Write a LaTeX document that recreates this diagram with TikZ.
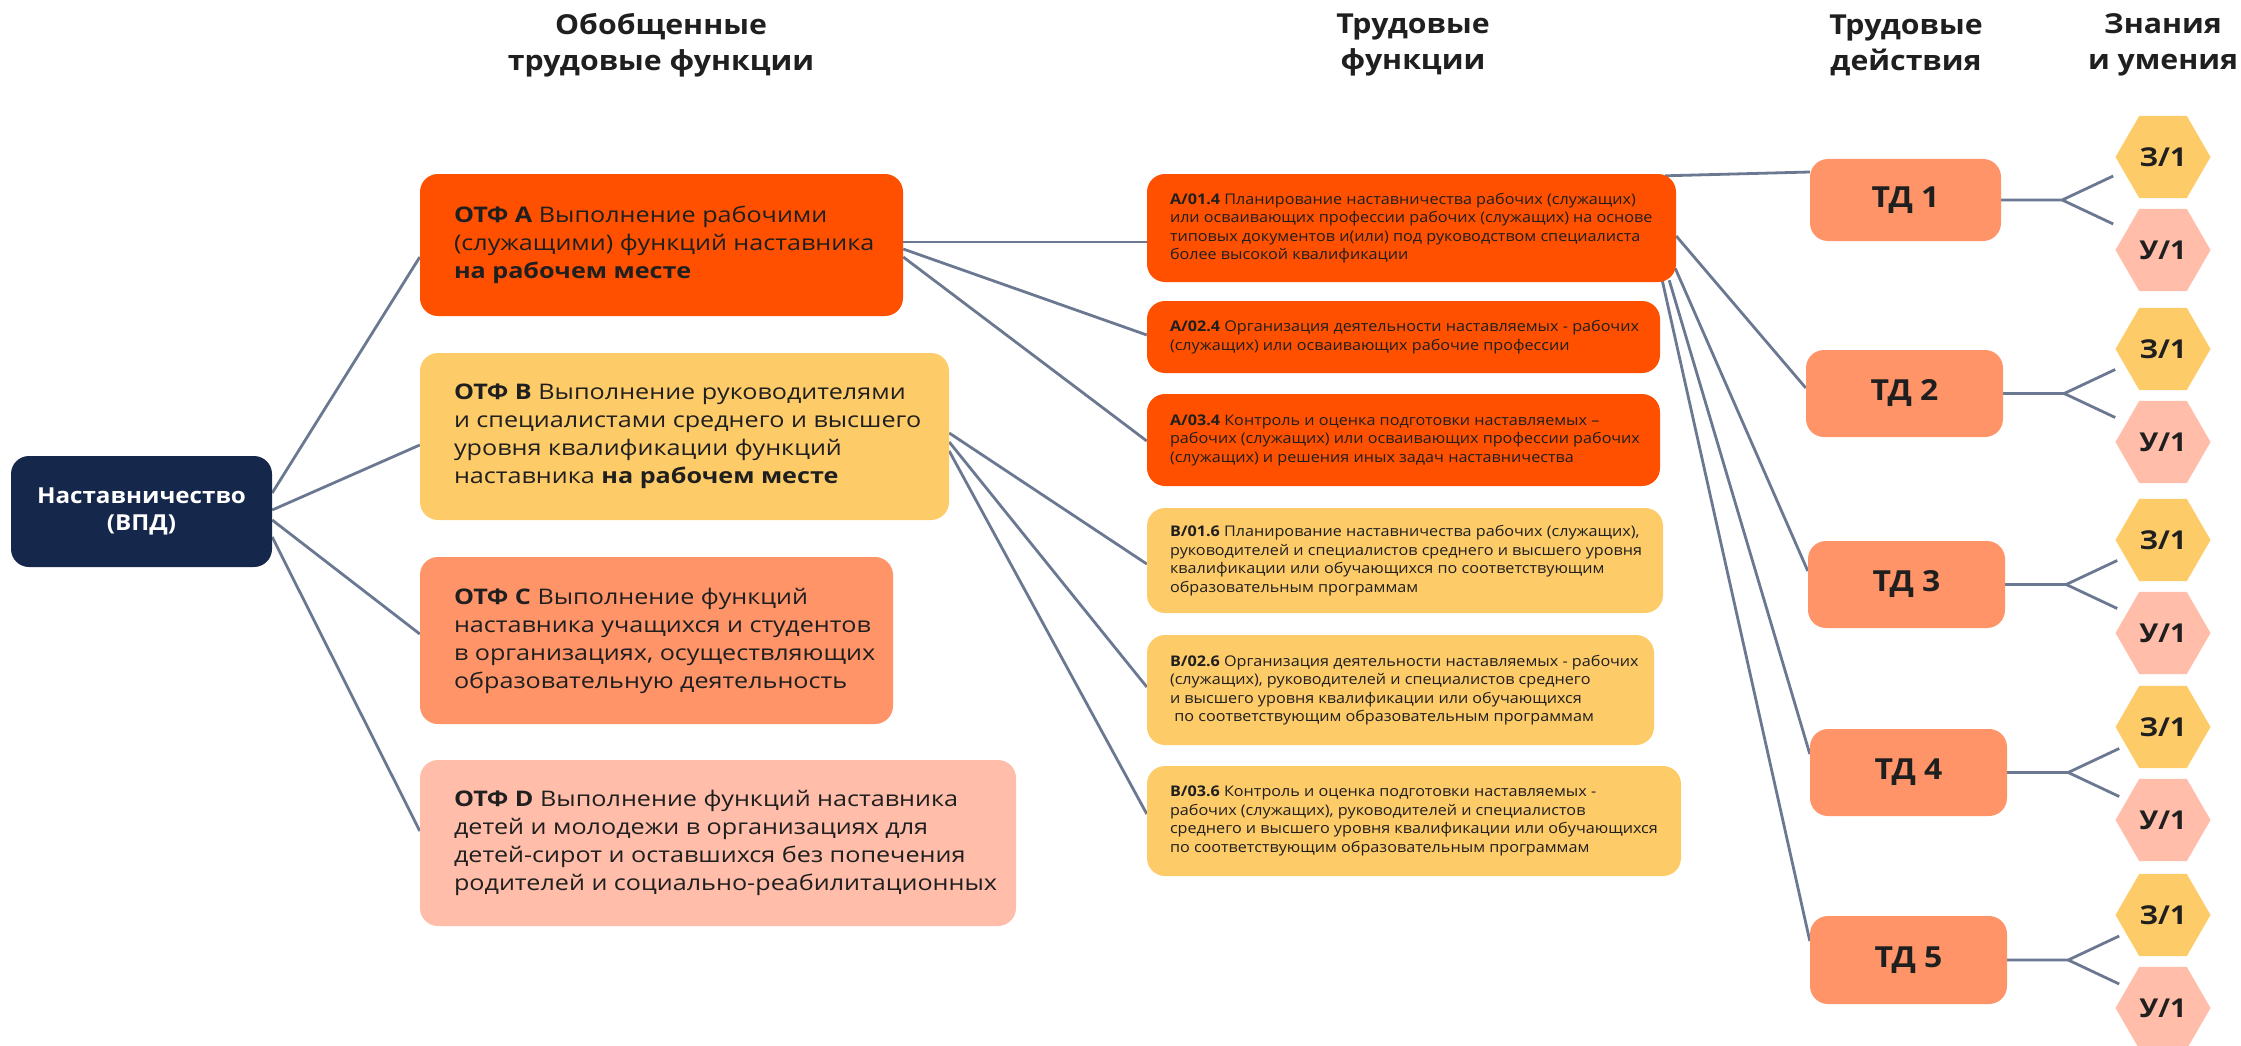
\documentclass[tikz,border=0pt]{standalone}
\usepackage{fontspec}
\setmainfont{Open Sans}[FakeStretch=1.1]
\newfontfamily\otffont{Open Sans}[FakeStretch=1.17]
\usetikzlibrary{shapes.geometric,backgrounds}
\definecolor{navy}{HTML}{15274A}
\definecolor{orng}{HTML}{FF5000}
\definecolor{yel}{HTML}{FECB69}
\definecolor{sal}{HTML}{FF9469}
\definecolor{pinkc}{HTML}{FFBDAA}
\definecolor{lineclr}{HTML}{6B7891}
\definecolor{ink}{HTML}{1F1F1F}
\begin{document}
\begin{tikzpicture}[x=1pt,y=-1pt,
  box/.style={rectangle, rounded corners=18pt, draw=none, inner sep=0pt},
  conn/.style={draw=lineclr, line width=2.8pt},
  headtext/.style={align=center, text=ink, font=\bfseries\fontsize{27.5}{36}\selectfont},
  otftext/.style={anchor=west, align=left, text=ink, inner sep=0pt, font=\otffont\fontsize{21.5}{28}\selectfont},
  tftext/.style={anchor=west, align=left, text=ink, inner sep=0pt, font=\fontsize{14.7}{18.5}\selectfont},
  tdbox/.style={box, fill=sal, text=ink, font=\bfseries\fontsize{29}{34}\selectfont},
  hex/.style={regular polygon, regular polygon sides=6, minimum size=95pt, inner sep=0pt, text=ink, font=\bfseries\fontsize{26}{30}\selectfont}
]
\useasboundingbox (0,0) rectangle (2241,1046);

% headings
\node[headtext] (h1) at (661,45) {Обобщенные\\трудовые функции};
\node[headtext] (h2) at (1413,45) {Трудовые\\функции};
\node[headtext] (h3) at (1906,45) {Трудовые\\действия};
\node[headtext] (h4) at (2163,45) {Знания\\и умения};

% root
\node[box, fill=navy, minimum width=261pt, minimum height=111pt, text=white, align=center,
      font=\bfseries\fontsize{22}{27}\selectfont] (vpd) at (141.5,511.5) {Наставничество\\(ВПД)};

% OTF boxes
\node[box, fill=orng, minimum width=483pt, minimum height=142pt] (otfA) at (661.5,245) {};
\node[otftext] (otfAt) at ([xshift=34pt]otfA.west) {\textbf{ОТФ A} Выполнение рабочими\\(служащими) функций наставника\\\textbf{на рабочем месте}};
\node[box, fill=yel, minimum width=529pt, minimum height=167pt] (otfB) at (684.5,436.5) {};
\node[otftext] (otfBt) at ([xshift=34pt]otfB.west) {\textbf{ОТФ B} Выполнение руководителями\\и специалистами среднего и высшего\\уровня квалификации функций\\наставника \textbf{на рабочем месте}};
\node[box, fill=sal, minimum width=473pt, minimum height=167pt] (otfC) at (656.5,640.5) {};
\node[otftext] (otfCt) at ([xshift=34pt]otfC.west) {\textbf{ОТФ C} Выполнение функций\\наставника учащихся и студентов\\в организациях, осуществляющих\\образовательную деятельность};
\node[box, fill=pinkc, minimum width=596pt, minimum height=166pt] (otfD) at (718,843) {};
\node[otftext] (otfDt) at ([xshift=34pt]otfD.west) {\textbf{ОТФ D} Выполнение функций наставника\\детей и молодежи в организациях для\\детей-сирот и оставшихся без попечения\\родителей и социально-реабилитационных};

% TF boxes
\node[box, fill=orng, minimum width=529pt, minimum height=108pt] (a1) at (1411.5,228) {};
\node[tftext] (a1t) at ([xshift=23pt]a1.west) {\textbf{A/01.4} Планирование наставничества рабочих (служащих)\\или осваивающих профессии рабочих (служащих) на основе\\типовых документов и(или) под руководством специалиста\\более высокой квалификации};
\node[box, fill=orng, minimum width=513pt, minimum height=72pt] (a2) at (1403.5,337) {};
\node[tftext] (a2t) at ([xshift=23pt]a2.west) {\textbf{A/02.4} Организация деятельности наставляемых - рабочих\\(служащих) или осваивающих рабочие профессии};
\node[box, fill=orng, minimum width=513pt, minimum height=92pt] (a3) at (1403.5,440) {};
\node[tftext] (a3t) at ([xshift=23pt]a3.west) {\textbf{A/03.4} Контроль и оценка подготовки наставляемых –\\рабочих (служащих) или осваивающих профессии рабочих\\(служащих) и решения иных задач наставничества};
\node[box, fill=yel, minimum width=516pt, minimum height=105pt] (b1) at (1405,560.5) {};
\node[tftext] (b1t) at ([xshift=23pt]b1.west) {\textbf{B/01.6} Планирование наставничества рабочих (служащих),\\руководителей и специалистов среднего и высшего уровня\\квалификации или обучающихся по соответствующим\\образовательным программам};
\node[box, fill=yel, minimum width=507pt, minimum height=110pt] (b2) at (1400.5,690) {};
\node[tftext] (b2t) at ([xshift=23pt]b2.west) {\textbf{B/02.6} Организация деятельности наставляемых - рабочих\\(служащих), руководителей и специалистов среднего\\и высшего уровня квалификации или обучающихся\\\hspace*{0.3em}по соответствующим образовательным программам};
\node[box, fill=yel, minimum width=534pt, minimum height=110pt] (b3) at (1414,821) {};
\node[tftext] (b3t) at ([xshift=23pt]b3.west) {\textbf{B/03.6} Контроль и оценка подготовки наставляемых -\\рабочих (служащих), руководителей и специалистов\\среднего и высшего уровня квалификации или обучающихся\\по соответствующим образовательным программам};

% TD boxes
\node[tdbox, minimum width=191pt, minimum height=82pt] (td1) at (1905.5,200) {ТД 1};
\node[tdbox, minimum width=197pt, minimum height=87pt] (td2) at (1904.5,393.5) {ТД 2};
\node[tdbox, minimum width=197pt, minimum height=87pt] (td3) at (1906.5,584.5) {ТД 3};
\node[tdbox, minimum width=197pt, minimum height=87pt] (td4) at (1908.5,772.5) {ТД 4};
\node[tdbox, minimum width=197pt, minimum height=88pt] (td5) at (1908.5,960) {ТД 5};

% hexagons
\foreach \i/\y in {1/157,2/349,3/540,4/727,5/915}{
  \node[hex, fill=yel] (z\i) at (2163,\y) {З/1};
  \node[hex, fill=pinkc] (u\i) at (2163,\y+93) {У/1};
}

\begin{pgfonlayer}{background}
% root to OTF
\draw[conn] ([yshift=18.5pt]vpd.east) -- ([yshift=-12pt]otfA.west);
\draw[conn] ([yshift=1.5pt]vpd.east) -- ([yshift=-8.5pt]otfB.west);
\draw[conn] ([yshift=-8.5pt]vpd.east) -- ([yshift=6.5pt]otfC.west);
\draw[conn] ([yshift=-25.5pt]vpd.east) -- ([yshift=12pt]otfD.west);
% OTF A to TF
\draw[conn] ([yshift=3pt]otfA.east) -- ([yshift=-14pt]a1.west);
\draw[conn] ([yshift=-4pt]otfA.east) -- ([yshift=2pt]a2.west);
\draw[conn] ([yshift=-12pt]otfA.east) -- ([yshift=-1pt]a3.west);
% OTF B to TF
\draw[conn] ([yshift=3.5pt]otfB.east) -- ([yshift=-3.5pt]b1.west);
\draw[conn] ([yshift=-5.5pt]otfB.east) -- ([yshift=3pt]b2.west);
\draw[conn] ([yshift=-14.5pt]otfB.east) -- ([yshift=7pt]b3.west);
% A/01.4 to TD
\draw[conn] ([xshift=-11pt,yshift=-2pt]a1.north east) -- ([yshift=28pt]td1.west);
\draw[conn] ([yshift=-8pt]a1.east) -- ([yshift=5.5pt]td2.west);
\draw[conn] ([xshift=-1pt,yshift=14pt]a1.south east) -- ([yshift=13.5pt]td3.west);
\draw[conn] ([xshift=-7pt,yshift=2pt]a1.south east) -- ([yshift=18.5pt]td4.west);
\draw[conn] ([xshift=-14pt,yshift=2pt]a1.south east) -- ([yshift=19pt]td5.west);
% TD forks
\foreach \i in {1,...,5}{
  \draw[conn] (td\i.east) -- ++(61,0) coordinate (f\i) -- ++(51,-24);
  \draw[conn] (f\i) -- ++(51,24);
}
\end{pgfonlayer}
\end{tikzpicture}
\end{document}
